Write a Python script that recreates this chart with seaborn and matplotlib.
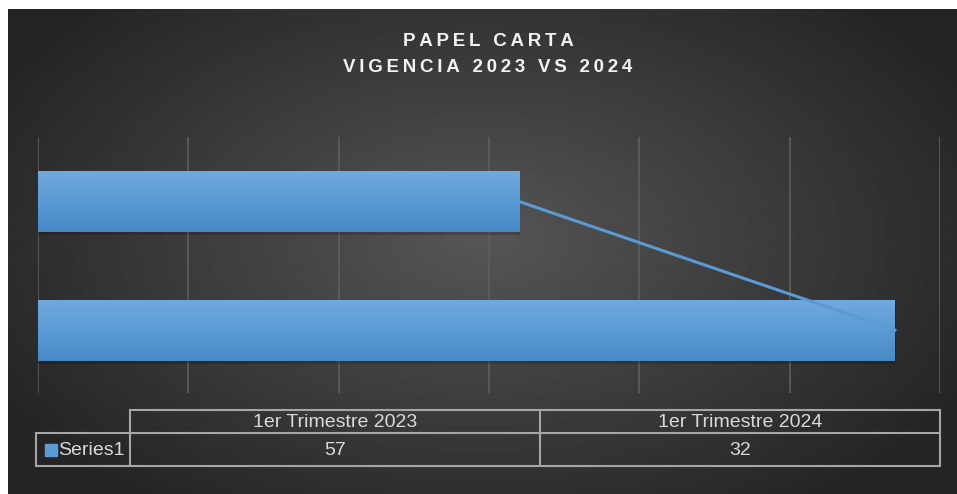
import numpy as np
import pandas as pd
import matplotlib.pyplot as plt
import seaborn as sns
from matplotlib.patches import Rectangle
from matplotlib.colors import LinearSegmentedColormap

# datos del grafico
categorias = ['1er Trimestre 2023', '1er Trimestre 2024']
valores = [57, 32]
serie = 'Series1'
titulo = ['PAPEL CARTA', 'VIGENCIA 2023 VS 2024']
x_ticks = [0, 10, 20, 30, 40, 50, 60]

df = pd.DataFrame({'trimestre': categorias, 'valor': valores})
# en Excel la primera categoria queda abajo
orden = categorias[::-1]

azul = '#5b9bd5'
fuente = 'Liberation Sans'

fig = plt.figure(figsize=(9.57, 4.94), dpi=100)
fig.patch.set_facecolor('white')

# fondo con degradado radial (coordenadas en pixeles)
fondo = fig.add_axes([0, 0, 1, 1])
fondo.set_xlim(0, 957)
fondo.set_ylim(494, 0)
fondo.axis('off')
yy, xx = np.mgrid[10:494, 8:957]
r = np.sqrt(((xx - 480) / 560.0) ** 2 + ((yy - 240) / 330.0) ** 2)
r = np.clip(r, 0, 1)
img = 0x56 / 255 + (0x24 / 255 - 0x56 / 255) * r
fondo.imshow(img, extent=(8, 957, 494, 10), cmap='gray', vmin=0, vmax=1,
             aspect='auto', interpolation='bilinear')
fondo.set_xlim(0, 957)
fondo.set_ylim(494, 0)


def espaciar(s):
    return ' '.join('\u2009'.join(p) for p in s.split(' ')).replace(' ', '\u2009 \u2009')


fondo.text(488, 42, espaciar(titulo[0]), ha='center', va='center', fontsize=13.5,
           weight='bold', color='#f2f2f2', family=fuente)
fondo.text(488, 68, espaciar(titulo[1]), ha='center', va='center', fontsize=13.5,
           weight='bold', color='#f2f2f2', family=fuente)

# grafico de barras
ax = fig.add_axes([38 / 957, (494 - 393) / 494, 902 / 957, 256 / 494])
sns.barplot(data=df, x='valor', y='trimestre', order=orden, orient='h',
            color=azul, width=0.475, ax=ax, zorder=3)

cmap_barra = LinearSegmentedColormap.from_list('barra', ['#72a9df', '#5b9bd5', '#4889c8'])
grad = np.linspace(0, 1, 100).reshape(-1, 1)
for p in list(ax.patches):
    x0, y0, w, h = p.get_x(), p.get_y(), p.get_width(), p.get_height()
    ax.add_patch(Rectangle((x0, y0 + 0.025), w + 0.08, h, color='black', alpha=0.18,
                           lw=0, zorder=2))
    im = ax.imshow(grad, extent=(x0, x0 + w, y0 + h, y0), cmap=cmap_barra,
                   aspect='auto', zorder=4)
    im.set_clip_path(p)

# linea que une los extremos de las barras
pos = [orden.index(c) for c in categorias]
ax.plot(df['valor'], pos, color=azul, lw=2.2, zorder=5)

ax.set_xlim(0, 60)
ax.set_ylim(1.49, -0.502)
ax.set_xticks(x_ticks)
ax.grid(axis='x', color='#5e5e5e', lw=1.2)
ax.set_axisbelow(True)
ax.set_facecolor('none')
for s in ax.spines.values():
    s.set_visible(False)
ax.tick_params(length=0, labelbottom=False, labelleft=False)
ax.set_xlabel('')
ax.set_ylabel('')

# tabla de datos
lc = '#a6a6a6'
lw = 1.5
fondo.plot([130, 940], [410, 410], color=lc, lw=lw)
fondo.plot([36, 940], [433, 433], color=lc, lw=lw)
fondo.plot([36, 940], [466, 466], color=lc, lw=lw)
fondo.plot([36, 36], [433, 466], color=lc, lw=lw)
for xv in [130, 540, 940]:
    fondo.plot([xv, xv], [410, 466], color=lc, lw=lw)

tc = '#d9d9d9'
centros = [335, 740]
for xc, cat, val in zip(centros, categorias, valores):
    fondo.text(xc, 422, cat, ha='center', va='center', fontsize=14, color=tc, family=fuente)
    fondo.text(xc, 450, str(val), ha='center', va='center', fontsize=14, color=tc, family=fuente)
fondo.add_patch(Rectangle((45, 444), 12, 12, color=azul))
fondo.text(58, 450, serie, ha='left', va='center', fontsize=14, color=tc, family=fuente)

plt.savefig('out.png', dpi=100)
